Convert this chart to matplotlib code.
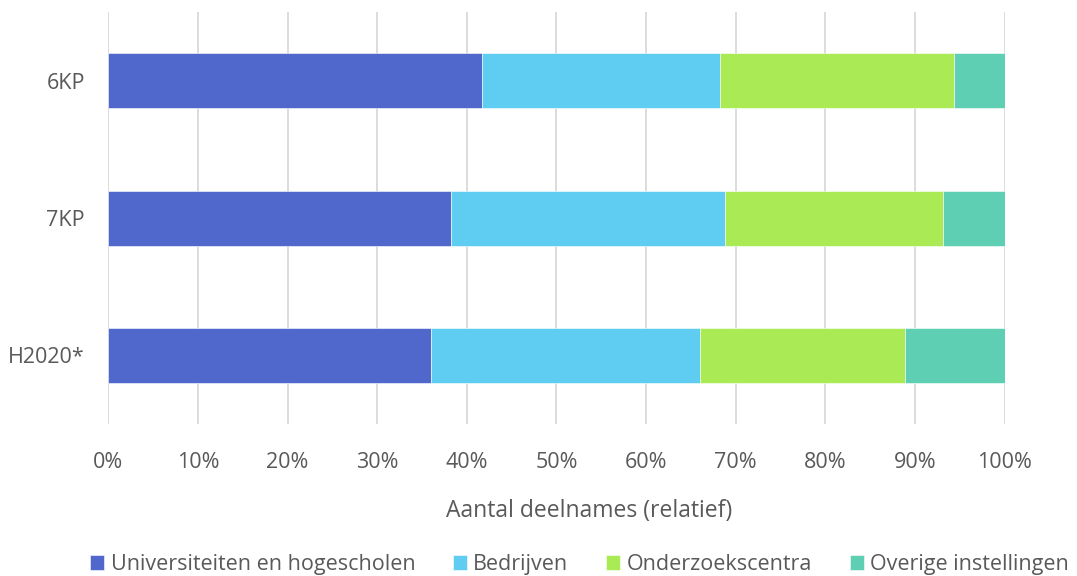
import matplotlib.pyplot as plt
import numpy as np

# gegevens (percentages per kaderprogramma)
programmas = ["6KP", "7KP", "H2020*"]
universiteiten = [41.7, 38.2, 36.0]
bedrijven = [26.5, 30.6, 30.0]
onderzoekscentra = [26.2, 24.3, 22.9]
overige = [5.6, 6.9, 11.1]

reeksen = ["Universiteiten en hogescholen", "Bedrijven", "Onderzoekscentra", "Overige instellingen"]
kleuren = ["#5067CC", "#5FCDF2", "#A9EA55", "#5ECFB2"]

plt.rcParams['font.family'] = ['Open Sans', 'DejaVu Sans']
grijs = "#595959"

fig = plt.figure(figsize=(10.77, 5.76), dpi=100)
ax = fig.add_axes([0.1007, 0.2639, 0.832, 0.7151])

y = np.arange(len(programmas))
links = np.zeros(len(programmas))
for naam, waarden, kleur in zip(reeksen, [universiteiten, bedrijven, onderzoekscentra, overige], kleuren):
    ax.barh(y, waarden, left=links, height=0.4, color=kleur, label=naam,
            edgecolor="white", linewidth=0.4, zorder=3)
    links += np.array(waarden)

ax.set_xlim(0, 100)
ax.set_ylim(2.5, -0.5)
ax.set_yticks(y)
ax.set_yticklabels(programmas)
ax.set_xticks(np.arange(0, 101, 10))
ax.set_xticklabels([f"{v}%" for v in range(0, 101, 10)])
ax.tick_params(axis='both', length=0, labelsize=15.5, labelcolor=grijs)
ax.tick_params(axis='x', pad=20)
ax.tick_params(axis='y', pad=17)
ax.grid(axis='x', color="#d9d9d9", linewidth=1.3, zorder=0)
for s in ax.spines.values():
    s.set_visible(False)

ax.set_xlabel("Aantal deelnames (relatief)", fontsize=16.5, color=grijs, labelpad=19)
ax.xaxis.label.set_x(0.536)

fig.legend(*ax.get_legend_handles_labels(), loc='center', bbox_to_anchor=(0.538, 0.02),
           ncol=4, frameon=False, fontsize=15.5, labelcolor=grijs, handlelength=0.65,
           handleheight=0.65, handletextpad=0.3, columnspacing=1.75)

plt.savefig("out.png", dpi=100)
